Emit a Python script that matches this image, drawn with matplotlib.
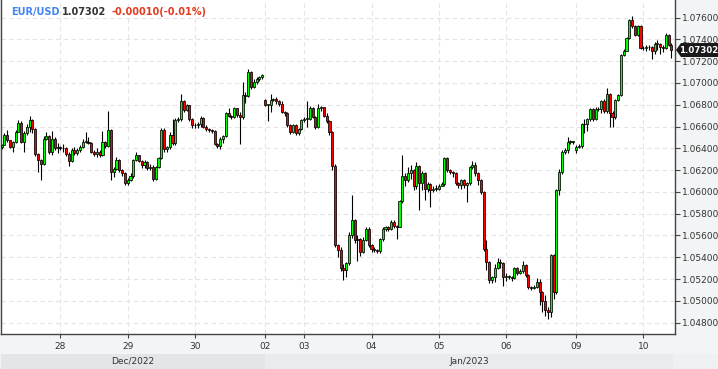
import numpy as np
import matplotlib
matplotlib.use("Agg")
import matplotlib.pyplot as plt
from matplotlib.patches import Polygon, Rectangle
from matplotlib.transforms import blended_transform_factory

# ---------------- data ----------------
symbol = "EUR/USD"
last_price_text = "1.07302"
change_text = "-0.00010(-0.01%)"

day_labels = ["28", "29", "30", "02", "03", "04", "05", "06", "09", "10"]
day_start_index = [21, 45, 69, 94, 108, 132, 156, 180, 205, 229]
month_labels = ["Dec/2022", "Jan/2023"]
month_start_index = [0, 94]

first_open = 1.0641
gap_open_index = [94, 205]
gap_open_value = [1.0684, 1.0638]

closes = [
    # Dec 27
    1.0643, 1.0652, 1.0648, 1.0641, 1.0646, 1.0655, 1.0663, 1.0646, 1.0654, 1.0660, 1.0666, 1.0658, 1.0635, 1.0629, 1.0626, 1.0649, 1.0651, 1.0637, 1.0649, 1.0640, 1.0641,
    # Dec 28
    1.0640, 1.0640, 1.0635, 1.0628, 1.0638, 1.0636, 1.0638, 1.0641, 1.0646, 1.0646, 1.0645, 1.0637, 1.0635, 1.0637, 1.0634, 1.0646, 1.0642, 1.0657, 1.0618, 1.0621, 1.0629, 1.0620, 1.0617, 1.0608,
    # Dec 29
    1.0611, 1.0615, 1.0629, 1.0634, 1.0628, 1.0625, 1.0627, 1.0622, 1.0623, 1.0612, 1.0623, 1.0631, 1.0657, 1.0639, 1.0641, 1.0652, 1.0645, 1.0666, 1.0667, 1.0683, 1.0675, 1.0680, 1.0667, 1.0661,
    # Dec 30
    1.0661, 1.0662, 1.0668, 1.0660, 1.0658, 1.0657, 1.0656, 1.0644, 1.0642, 1.0649, 1.0651, 1.0672, 1.0670, 1.0669, 1.0677, 1.0671, 1.0669, 1.0689, 1.0688, 1.0710, 1.0696, 1.0701, 1.0704, 1.0705, 1.0707,
    # Jan 2
    1.0680, 1.0680, 1.0684, 1.0685, 1.0683, 1.0681, 1.0673, 1.0672, 1.0661, 1.0655, 1.0661, 1.0654, 1.0658, 1.0666,
    # Jan 3
    1.0667, 1.0667, 1.0677, 1.0669, 1.0660, 1.0677, 1.0678, 1.0670, 1.0665, 1.0655, 1.0624, 1.0551, 1.0547, 1.0530, 1.0528, 1.0535, 1.0560, 1.0574, 1.0556, 1.0557, 1.0545, 1.0556, 1.0566, 1.0551,
    # Jan 4
    1.0548, 1.0547, 1.0546, 1.0557, 1.0566, 1.0568, 1.0566, 1.0572, 1.0569, 1.0568, 1.0592, 1.0615, 1.0611, 1.0617, 1.0620, 1.0605, 1.0624, 1.0608, 1.0617, 1.0603, 1.0607, 1.0602, 1.0603, 1.0603,
    # Jan 5
    1.0605, 1.0607, 1.0631, 1.0620, 1.0618, 1.0617, 1.0608, 1.0606, 1.0611, 1.0606, 1.0608, 1.0623, 1.0625, 1.0617, 1.0611, 1.0600, 1.0548, 1.0536, 1.0519, 1.0522, 1.0530, 1.0536, 1.0535, 1.0522,
    # Jan 6
    1.0522, 1.0522, 1.0521, 1.0530, 1.0526, 1.0527, 1.0533, 1.0524, 1.0513, 1.0512, 1.0513, 1.0517, 1.0508, 1.0500, 1.0492, 1.0490, 1.0542, 1.0508, 1.0602, 1.0618, 1.0637, 1.0638, 1.0646, 1.0646, 1.0646,
    # Jan 9
    1.0641, 1.0642, 1.0662, 1.0662, 1.0667, 1.0676, 1.0667, 1.0676, 1.0676, 1.0683, 1.0674, 1.0690, 1.0672, 1.0669, 1.0684, 1.0689, 1.0726, 1.0729, 1.0741, 1.0758, 1.0752, 1.0744, 1.0752, 1.0732,
    # Jan 10
    1.0732, 1.0733, 1.0733, 1.0729, 1.0736, 1.0736, 1.0733, 1.0732, 1.0744, 1.0735, 1.07302,
]

highs = [
    1.0644, 1.0654, 1.0657, 1.0648, 1.0647, 1.0657, 1.0666, 1.0665, 1.0656, 1.0662, 1.0670, 1.0667, 1.0659, 1.0636, 1.0630, 1.0651, 1.0655, 1.0652, 1.0656, 1.0650, 1.0645,
    1.0642, 1.0644, 1.0641, 1.0637, 1.0640, 1.0641, 1.0640, 1.0643, 1.0649, 1.0655, 1.0650, 1.0646, 1.0638, 1.0640, 1.0638, 1.0656, 1.0647, 1.0674, 1.0658, 1.0623, 1.0632, 1.0630, 1.0621, 1.0618,
    1.0613, 1.0617, 1.0630, 1.0637, 1.0634, 1.0629, 1.0629, 1.0628, 1.0626, 1.0625, 1.0624, 1.0632, 1.0659, 1.0659, 1.0642, 1.0655, 1.0667, 1.0668, 1.0669, 1.0690, 1.0684, 1.0681, 1.0680, 1.0668,
    1.0663, 1.0664, 1.0670, 1.0669, 1.0661, 1.0659, 1.0658, 1.0657, 1.0645, 1.0650, 1.0652, 1.0673, 1.0677, 1.0671, 1.0678, 1.0677, 1.0673, 1.0701, 1.0692, 1.0713, 1.0711, 1.0704, 1.0705, 1.0706, 1.0708,
    1.0685, 1.0681, 1.0690, 1.0686, 1.0687, 1.0684, 1.0683, 1.0674, 1.0673, 1.0662, 1.0662, 1.0662, 1.0659, 1.0667,
    1.0669, 1.0683, 1.0679, 1.0678, 1.0670, 1.0681, 1.0679, 1.0678, 1.0672, 1.0666, 1.0656, 1.0626, 1.0552, 1.0549, 1.0534, 1.0536, 1.0563, 1.0597, 1.0575, 1.0560, 1.0558, 1.0559, 1.0568, 1.0568,
    1.0552, 1.0549, 1.0548, 1.0558, 1.0568, 1.0569, 1.0569, 1.0574, 1.0574, 1.0570, 1.0593, 1.0634, 1.0617, 1.0623, 1.0625, 1.0621, 1.0627, 1.0625, 1.0619, 1.0618, 1.0609, 1.0608, 1.0605, 1.0606,
    1.0607, 1.0609, 1.0632, 1.0632, 1.0621, 1.0619, 1.0618, 1.0609, 1.0612, 1.0612, 1.0609, 1.0624, 1.0628, 1.0627, 1.0618, 1.0612, 1.0601, 1.0556, 1.0537, 1.0523, 1.0534, 1.0539, 1.0538, 1.0536,
    1.0526, 1.0524, 1.0523, 1.0531, 1.0531, 1.0529, 1.0537, 1.0534, 1.0525, 1.0514, 1.0515, 1.0521, 1.0520, 1.0509, 1.0505, 1.0494, 1.0543, 1.0543, 1.0603, 1.0621, 1.0638, 1.0640, 1.0650, 1.0648, 1.0647,
    1.0643, 1.0644, 1.0663, 1.0667, 1.0668, 1.0677, 1.0677, 1.0678, 1.0678, 1.0684, 1.0685, 1.0695, 1.0691, 1.0674, 1.0685, 1.0690, 1.0727, 1.0731, 1.0742, 1.0759, 1.0761, 1.0753, 1.0753, 1.0753,
    1.0734, 1.0735, 1.0735, 1.0734, 1.0738, 1.0739, 1.0737, 1.0735, 1.0746, 1.0745, 1.0737,
]

lows = [
    1.0639, 1.0647, 1.0646, 1.0640, 1.0637, 1.0645, 1.0655, 1.0645, 1.0637, 1.0652, 1.0655, 1.0654, 1.0633, 1.0618, 1.0611, 1.0625, 1.0648, 1.0635, 1.0634, 1.0638, 1.0636,
    1.0638, 1.0637, 1.0633, 1.0624, 1.0627, 1.0634, 1.0634, 1.0637, 1.0640, 1.0645, 1.0644, 1.0636, 1.0633, 1.0632, 1.0632, 1.0633, 1.0640, 1.0641, 1.0611, 1.0614, 1.0620, 1.0618, 1.0615, 1.0606,
    1.0606, 1.0610, 1.0613, 1.0628, 1.0627, 1.0622, 1.0622, 1.0620, 1.0620, 1.0610, 1.0611, 1.0622, 1.0630, 1.0637, 1.0637, 1.0639, 1.0643, 1.0643, 1.0664, 1.0665, 1.0673, 1.0674, 1.0665, 1.0659,
    1.0659, 1.0659, 1.0660, 1.0659, 1.0656, 1.0655, 1.0654, 1.0643, 1.0640, 1.0639, 1.0645, 1.0650, 1.0669, 1.0667, 1.0668, 1.0669, 1.0644, 1.0667, 1.0682, 1.0687, 1.0694, 1.0695, 1.0699, 1.0702, 1.0704,
    1.0679, 1.0665, 1.0673, 1.0683, 1.0681, 1.0679, 1.0672, 1.0670, 1.0660, 1.0653, 1.0654, 1.0652, 1.0652, 1.0657,
    1.0664, 1.0660, 1.0666, 1.0668, 1.0658, 1.0659, 1.0674, 1.0669, 1.0663, 1.0652, 1.0620, 1.0549, 1.0540, 1.0527, 1.0519, 1.0522, 1.0533, 1.0558, 1.0553, 1.0537, 1.0541, 1.0544, 1.0555, 1.0549,
    1.0545, 1.0545, 1.0544, 1.0544, 1.0555, 1.0564, 1.0564, 1.0565, 1.0567, 1.0557, 1.0568, 1.0590, 1.0605, 1.0609, 1.0612, 1.0602, 1.0603, 1.0583, 1.0602, 1.0593, 1.0600, 1.0586, 1.0600, 1.0601,
    1.0602, 1.0605, 1.0605, 1.0618, 1.0616, 1.0614, 1.0606, 1.0604, 1.0603, 1.0604, 1.0591, 1.0606, 1.0621, 1.0615, 1.0606, 1.0598, 1.0546, 1.0528, 1.0516, 1.0516, 1.0517, 1.0529, 1.0530, 1.0514,
    1.0518, 1.0520, 1.0518, 1.0520, 1.0524, 1.0525, 1.0526, 1.0522, 1.0511, 1.0510, 1.0511, 1.0512, 1.0496, 1.0490, 1.0486, 1.0483, 1.0485, 1.0502, 1.0506, 1.0597, 1.0616, 1.0635, 1.0636, 1.0644, 1.0644,
    1.0636, 1.0640, 1.0640, 1.0654, 1.0656, 1.0665, 1.0665, 1.0666, 1.0674, 1.0672, 1.0672, 1.0672, 1.0660, 1.0660, 1.0667, 1.0683, 1.0688, 1.0725, 1.0729, 1.0740, 1.0750, 1.0743, 1.0743, 1.0731,
    1.0730, 1.0729, 1.0730, 1.0722, 1.0727, 1.0730, 1.0727, 1.0728, 1.0731, 1.0734, 1.0723,
]

y_ticks = [1.048, 1.050, 1.052, 1.054, 1.056, 1.058, 1.060, 1.062, 1.064, 1.066,
           1.068, 1.070, 1.072, 1.074, 1.076]

# ---------------- derived ----------------
closes_a = np.array(closes)
opens_a = np.concatenate([[first_open], closes_a[:-1]])
for gi, gv in zip(gap_open_index, gap_open_value):
    opens_a[gi] = gv
highs_a = np.maximum(np.array(highs), np.maximum(opens_a, closes_a))
lows_a = np.minimum(np.array(lows), np.minimum(opens_a, closes_a))
idx = np.arange(len(closes_a))

# ---------------- figure ----------------
W, H = 718, 369
fig = plt.figure(figsize=(W / 100, H / 100), dpi=100, facecolor="#f3f4f6")
ax = fig.add_axes([0.5 / W, 35 / H, 674.5 / W, 334 / H])
ax.set_facecolor("white")

XL, XR = -0.39, 240.3
ax.set_xlim(XL, XR)
ax.set_ylim(1.04696, 1.07761)

# grid
ax.set_axisbelow(True)
ax.grid(True, color="#e4e4e4", lw=0.8, linestyle=(0, (4, 3)))

# candles
ax.vlines(idx, lows_a, highs_a, color="black", lw=0.8, zorder=2)
up = closes_a >= opens_a
body_lo = np.minimum(opens_a, closes_a)
body_h = np.maximum(np.abs(closes_a - opens_a), 0.00004)
ax.bar(idx[up], body_h[up], bottom=body_lo[up], width=0.74, color="#00ff00",
       edgecolor="black", linewidth=0.55, zorder=3)
ax.bar(idx[~up], body_h[~up], bottom=body_lo[~up], width=0.74, color="#ff0000",
       edgecolor="black", linewidth=0.55, zorder=3)

# axes styling
for s in ["left", "bottom", "right"]:
    ax.spines[s].set_color("#444444")
    ax.spines[s].set_linewidth(1.0)
ax.spines["top"].set_visible(False)

ax.set_xticks(day_start_index)
ax.set_xticklabels(day_labels)
ax.yaxis.tick_right()
ax.set_yticks(y_ticks)
ax.set_yticklabels([f"{v:.5f}" for v in y_ticks])
ax.tick_params(axis="x", direction="out", length=3, width=0.8, colors="#444444",
               labelsize=6.5, labelcolor="#333333", pad=2.5)
ax.tick_params(axis="y", direction="out", length=3.5, width=0.8, colors="#444444",
               labelsize=6.5, labelcolor="#333333", pad=1.5)

# month band
trans = blended_transform_factory(ax.transData, fig.transFigure)
band_h = 15 / H
band_colors = ["#e4e5e8", "#eaebee"]
band_edges = [XL, month_start_index[1], 239.6]
for k in range(2):
    x0, x1 = band_edges[k], band_edges[k + 1]
    fig.add_artist(Rectangle((x0, 0), x1 - x0, band_h, transform=trans,
                             facecolor=band_colors[k], edgecolor="none"))
    fig.text((x0 + x1) / 2, band_h / 2, month_labels[k], transform=trans,
             ha="center", va="center", fontsize=6.5, color="#333333")
fig.add_artist(Rectangle((673 / W, 0), 1 - 673 / W, band_h, transform=fig.transFigure,
                         facecolor="#eef0f2", edgecolor="none"))

# header
hy = 1 - 12 / H
fig.text(11 / W, hy, symbol, fontsize=7, fontweight="bold", color="#4285f4",
         ha="left", va="center")
fig.text(62 / W, hy, last_price_text, fontsize=7, fontweight="bold", color="#333333",
         ha="left", va="center")
fig.text(111 / W, hy, change_text, fontsize=7, fontweight="bold", color="#e33b1f",
         ha="left", va="center")

# current price label
py = ax.transData.transform((0, closes_a[-1]))[1]
pyf = py / H
hh = 7 / H
pts = [(676 / W, pyf), (681 / W, pyf + hh), (718 / W, pyf + hh),
       (718 / W, pyf - hh), (681 / W, pyf - hh)]
fig.add_artist(Polygon(pts, closed=True, transform=fig.transFigure,
                       facecolor="#1a1a1a", edgecolor="none"))
fig.text(698.5 / W, pyf, last_price_text, fontsize=6.2, fontweight="bold",
         color="white", ha="center", va="center")

fig.savefig("out.png", dpi=100, facecolor=fig.get_facecolor())
